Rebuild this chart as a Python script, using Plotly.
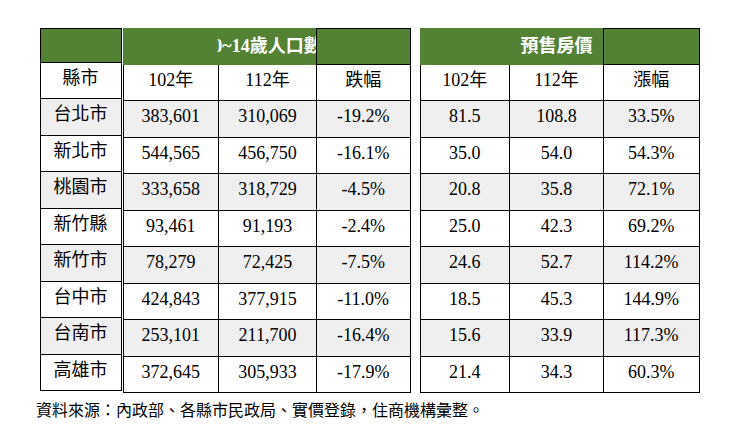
import plotly.graph_objects as go

cities = ["台北市","新北市","桃園市","新竹縣","新竹市","台中市","台南市","高雄市"]
pop102 = ["383,601","544,565","333,658","93,461","78,279","424,843","253,101","372,645"]
pop112 = ["310,069","456,750","318,729","91,193","72,425","377,915","211,700","305,933"]
pop_chg = ["-19.2%","-16.1%","-4.5%","-2.4%","-7.5%","-11.0%","-16.4%","-17.9%"]
price102 = ["81.5","35.0","20.8","25.0","24.6","18.5","15.6","21.4"]
price112 = ["108.8","54.0","35.8","42.3","52.7","45.3","33.9","34.3"]
price_chg = ["33.5%","54.3%","72.1%","69.2%","114.2%","144.9%","117.3%","60.3%"]
group_titles = ["", "0~14歲人口數", "預售房價"]
sub_a = ["縣市"]
sub_b = ["102年","112年","跌幅"]
sub_c = ["102年","112年","漲幅"]
footer = "資料來源：內政部、各縣市民政局、實價登錄，住商機構彙整。"

W, H = 750, 437
OFF = 8  # page body margin
GREEN = "#548235"
FONT = "Liberation Serif, Noto Sans CJK TC"
row_fill = ["white"] + ["#efefef" if i % 2 == 0 else "white" for i in range(len(cities))]
line = dict(color="black", width=1)

blocks = [
    ((40, 121), [81], sub_a, [cities], group_titles[0]),
    ((123, 410), [96, 98, 94], sub_b, [pop102, pop112, pop_chg], group_titles[1]),
    ((420, 700), [90, 94, 96], sub_c, [price102, price112, price_chg], group_titles[2]),
]

fig = go.Figure()
for (x0, x1), cw, sub, cols, title in blocks:
    vals = [[s] + c for s, c in zip(sub, cols)]
    heads = [f"<b>{title}</b>" if i == len(sub) // 2 else "" for i in range(len(sub))] if len(sub) > 1 else [""]
    fig.add_trace(go.Table(
        domain=dict(x=[(x0 - OFF) / W, (x1 - OFF) / W], y=[0, 1 - (28 - OFF) / H]),
        columnwidth=cw,
        header=dict(values=[[f"<b>{title}</b>"]] if len(sub) == 1 else [[h] for h in heads],
                    fill=dict(color=GREEN), line=dict(color=[GREEN] * (len(sub) - 1) + ["black"], width=1) if len(sub) > 1 else line,
                    align="center", height=34,
                    font=dict(family=FONT, size=18, color="white")),
        cells=dict(values=vals, fill=dict(color=[row_fill] * len(vals)), line=line,
                   align="center", height=36.5,
                   font=dict(family=FONT, size=18, color="black")),
    ))

fig.add_annotation(text=footer, x=(34 - OFF) / W, y=1 - (410 - OFF) / H, xref="paper", yref="paper",
                   xanchor="left", yanchor="middle", showarrow=False,
                   font=dict(family=FONT, size=16, color="black"))
fig.update_layout(width=W, height=H, margin=dict(l=0, r=0, t=0, b=0),
                  paper_bgcolor="white", plot_bgcolor="white")
fig.write_html("out.html")
